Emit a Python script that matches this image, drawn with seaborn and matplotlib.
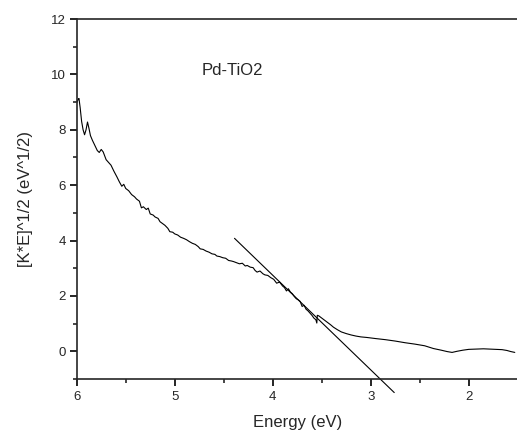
import numpy as np
import pandas as pd
import matplotlib
matplotlib.use("Agg")
import matplotlib.pyplot as plt
from matplotlib.ticker import MultipleLocator
import seaborn as sns

# Tauc-type plot, values
energy = [6.00, 5.985, 5.977, 5.965, 5.95, 5.935, 5.92, 5.905, 5.89, 5.875,
          5.86, 5.84, 5.81, 5.79, 5.77, 5.75, 5.73, 5.70, 5.675, 5.65,
          5.62, 5.59, 5.565, 5.54, 5.52, 5.50, 5.47, 5.44, 5.41, 5.39,
          5.36, 5.34, 5.32, 5.29, 5.27, 5.25, 5.22, 5.20, 5.17, 5.15,
          5.12, 5.10, 5.07, 5.05, 5.02, 5.00, 4.97, 4.94, 4.91, 4.88,
          4.85, 4.82, 4.79, 4.76, 4.74, 4.71, 4.68, 4.65, 4.62, 4.59,
          4.57, 4.54, 4.51, 4.48, 4.45, 4.42, 4.40, 4.37, 4.34, 4.31,
          4.28, 4.26, 4.23, 4.20, 4.18, 4.16, 4.13, 4.10, 4.08, 4.05,
          4.02, 3.99, 3.96, 3.93, 3.90, 3.88, 3.86, 3.84, 3.82, 3.80,
          3.78, 3.76, 3.74, 3.72, 3.70, 3.68, 3.66, 3.64, 3.62, 3.60,
          3.58, 3.56, 3.55, 3.545, 3.53, 3.50, 3.47, 3.44, 3.41, 3.38,
          3.34, 3.30, 3.25, 3.20, 3.15, 3.10, 3.04, 2.95, 2.85, 2.75,
          2.65, 2.55, 2.45, 2.36, 2.28, 2.22, 2.17, 2.12, 2.06, 2.00,
          1.93, 1.85, 1.78, 1.72, 1.66, 1.61, 1.57, 1.53]
ke_half = [8.98, 9.10, 9.13, 8.80, 8.30, 8.00, 7.82, 8.00, 8.28, 8.05,
           7.79, 7.62, 7.40, 7.25, 7.18, 7.29, 7.20, 6.92, 6.82, 6.72,
           6.50, 6.30, 6.12, 5.96, 6.03, 5.88, 5.80, 5.66, 5.58, 5.50,
           5.42, 5.18, 5.22, 5.12, 5.17, 4.96, 4.92, 4.85, 4.80, 4.68,
           4.60, 4.55, 4.44, 4.32, 4.30, 4.24, 4.20, 4.12, 4.08, 4.03,
           3.96, 3.90, 3.86, 3.78, 3.70, 3.68, 3.62, 3.58, 3.52, 3.50,
           3.44, 3.42, 3.38, 3.36, 3.28, 3.26, 3.24, 3.20, 3.16, 3.18,
           3.08, 3.10, 3.04, 3.02, 2.92, 2.86, 2.90, 2.80, 2.76, 2.74,
           2.66, 2.60, 2.46, 2.50, 2.36, 2.30, 2.18, 2.26, 2.14, 2.08,
           1.98, 1.90, 1.86, 1.80, 1.62, 1.66, 1.52, 1.46, 1.38, 1.30,
           1.20, 1.14, 1.02, 1.30, 1.28, 1.20, 1.12, 1.04, 0.96, 0.87,
           0.78, 0.70, 0.64, 0.59, 0.55, 0.52, 0.50, 0.46, 0.42, 0.37,
           0.31, 0.26, 0.20, 0.10, 0.04, -0.01, -0.04, 0.00, 0.04, 0.07,
           0.08, 0.09, 0.08, 0.07, 0.06, 0.03, -0.01, -0.04]

# linear fit line (tangent)
fit_x = [4.39, 2.76]
fit_y = [4.08, -1.49]

sample_name = "Pd-TiO2"

df = pd.DataFrame({"Energy": energy, "KE": ke_half})

sns.set_style("ticks")
plt.rcParams["font.family"] = ["Liberation Sans", "DejaVu Sans"]
plt.rcParams["axes.linewidth"] = 1.2

fig = plt.figure(figsize=(5.17, 4.32), dpi=100)
ax = fig.add_axes([0.1484, 0.1227, 0.853, 0.8333])

sns.lineplot(data=df, x="Energy", y="KE", ax=ax, color="black",
             linewidth=0.8, sort=False, estimator=None)
ax.plot(fit_x, fit_y, color="black", linewidth=0.8, clip_on=False)

ax.text(4.724, 10.13, sample_name, fontsize=12, va="center", ha="left")

ax.set_xlim(6, 1.5)
ax.set_ylim(-1, 12)
ax.xaxis.set_major_locator(MultipleLocator(1))
ax.xaxis.set_minor_locator(MultipleLocator(0.5))
ax.yaxis.set_major_locator(MultipleLocator(2))
ax.yaxis.set_minor_locator(MultipleLocator(1))

ax.spines["right"].set_visible(False)
ax.spines["top"].set_visible(True)
ax.tick_params(axis="both", which="major", length=5, width=1.2,
               labelsize=9.5, color="black")
ax.tick_params(axis="both", which="minor", length=3, width=1.2)
ax.tick_params(axis="x", which="both", pad=4, top=False, labeltop=False,
               direction="out")
ax.tick_params(axis="y", which="major", pad=3)

ax.set_xlabel("Energy (eV)", fontsize=12)
ax.set_ylabel("[K*E]^1/2 (eV^1/2)", fontsize=12)
ax.xaxis.set_label_coords(0.5, -0.1)
ax.yaxis.set_label_coords(-0.099, 0.5)

fig.savefig("out.png", dpi=100)
